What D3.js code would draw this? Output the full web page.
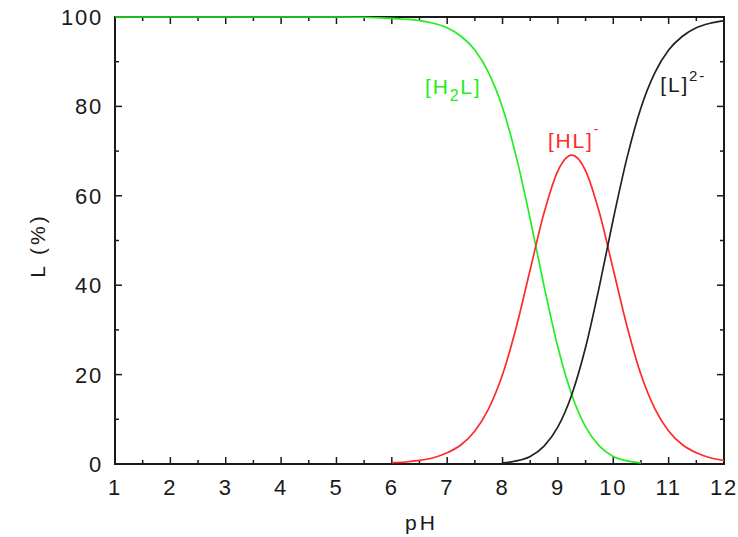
<!DOCTYPE html>
<html lang="en">
<head>
  <meta charset="UTF-8">
  <title>Speciation vs pH</title>
  <script src="https://cdnjs.cloudflare.com/ajax/libs/d3/7.8.5/d3.min.js"></script>
  <style>
    body {
      margin: 0;
      background: white;
    }
    svg {
      display: block;
      font-family: "Liberation Sans", Arial, sans-serif;
    }
    .tick-label {
      font-size: 22px;
      letter-spacing: 1.8px;
      fill: #1a1a1a;
    }
    .axis-title {
      font-size: 21px;
      letter-spacing: 3px;
      fill: #1a1a1a;
    }
    .species {
      font-size: 21px;
      letter-spacing: 1.8px;
    }
  </style>
</head>
<body>
  <script>
    var pH = [1, 2, 3, 4, 5, 6, 6.25, 6.5, 6.75, 7, 7.25, 7.5, 7.75, 8, 8.25, 8.5, 8.75,
      9, 9.25, 9.5, 9.75, 10, 10.25, 10.5, 10.75, 11, 11.25, 11.5, 11.75, 12];

    var h2l = [100, 100, 100, 100, 100, 99.7, 99.5, 99.2, 98.6, 97.6, 95.7, 92.6, 87.5,
      79.7, 68.6, 54.8, 39.8, 26.1, 15.5, 8.3, 4.0, 1.7, 0.7, 0.25,
      null, null, null, null, null, null];

    var hl = [null, null, null, null, null, 0.3, 0.45, 0.8, 1.4, 2.5, 4.3, 7.4, 12.4,
      20.0, 30.7, 43.5, 56.2, 65.6, 69.1, 65.6, 56.2, 43.5, 30.7, 20.0,
      12.4, 7.4, 4.3, 2.5, 1.4, 0.8];

    var l2 = [null, null, null, null, null, null, null, null, null, null, null, null, null,
      0.25, 0.7, 1.7, 4.0, 8.3, 15.5, 26.1, 39.8, 54.8, 68.6, 79.7,
      87.5, 92.6, 95.7, 97.6, 98.6, 99.2];

    var xTicks = [1, 2, 3, 4, 5, 6, 7, 8, 9, 10, 11, 12];
    var yTicks = [0, 20, 40, 60, 80, 100];

    var w = 738;
    var h = 537;
    var margin = {top: 17, right: 14, bottom: 73, left: 115};

    var svg = d3.select("body").append("svg")
      .attr("width", w)
      .attr("height", h);

    var xScale = d3.scaleLinear()
      .domain([1, 12])
      .range([margin.left, w - margin.right]);

    var yScale = d3.scaleLinear()
      .domain([0, 100])
      .range([h - margin.bottom, margin.top]);

    var x0 = margin.left, x1 = w - margin.right;
    var y0 = h - margin.bottom, y1 = margin.top;

    // minor ticks (halves / tens), all inward, all four sides
    var xMinor = d3.range(1.5, 12, 1);
    var yMinor = d3.range(10, 100, 20);
    var tickColor = "#1a1a1a";

    function xTickLines(vals, len) {
      vals.forEach(function(v) {
        svg.append("line").attr("x1", xScale(v)).attr("x2", xScale(v))
          .attr("y1", y0).attr("y2", y0 - len)
          .attr("stroke", tickColor).attr("stroke-width", 1.5);
        svg.append("line").attr("x1", xScale(v)).attr("x2", xScale(v))
          .attr("y1", y1).attr("y2", y1 + len)
          .attr("stroke", tickColor).attr("stroke-width", 1.5);
      });
    }
    function yTickLines(vals, len) {
      vals.forEach(function(v) {
        svg.append("line").attr("x1", x0).attr("x2", x0 + len)
          .attr("y1", yScale(v)).attr("y2", yScale(v))
          .attr("stroke", tickColor).attr("stroke-width", 1.5);
        svg.append("line").attr("x1", x1).attr("x2", x1 - len)
          .attr("y1", yScale(v)).attr("y2", yScale(v))
          .attr("stroke", tickColor).attr("stroke-width", 1.5);
      });
    }
    xTickLines(xTicks, 7);
    xTickLines(xMinor, 4);
    yTickLines(yTicks, 7);
    yTickLines(yMinor, 4);

    // frame
    svg.append("rect")
      .attr("x", x0).attr("y", y1)
      .attr("width", x1 - x0).attr("height", y0 - y1)
      .attr("fill", "none")
      .attr("stroke", tickColor)
      .attr("stroke-width", 2);

    // curves (drawn over the frame, like the original)
    var line = d3.line()
      .defined(function(d) { return d[1] !== null; })
      .x(function(d) { return xScale(d[0]); })
      .y(function(d) { return yScale(d[1]); })
      .curve(d3.curveMonotoneX);

    var series = [
      {values: h2l, color: "#22ee22"},
      {values: hl, color: "#ff2a2a"},
      {values: l2, color: "#222222"}
    ];

    svg.selectAll(".curve")
      .data(series)
      .enter()
      .append("path")
      .classed("curve", true)
      .attr("fill", "none")
      .attr("stroke", function(d) { return d.color; })
      .attr("stroke-width", 1.7)
      .attr("d", function(d) {
        return line(pH.map(function(p, i) { return [p, d.values[i]]; }));
      });

    // tick labels
    svg.selectAll(".x-label")
      .data(xTicks)
      .enter()
      .append("text")
      .attr("class", "tick-label x-label")
      .attr("x", function(d) { return xScale(d); })
      .attr("y", y0 + 31)
      .attr("text-anchor", "middle")
      .text(function(d) { return d; });

    svg.selectAll(".y-label")
      .data(yTicks)
      .enter()
      .append("text")
      .attr("class", "tick-label y-label")
      .attr("x", x0 - 12)
      .attr("y", function(d) { return yScale(d) + 8; })
      .attr("text-anchor", "end")
      .text(function(d) { return d; });

    svg.append("text")
      .attr("class", "axis-title")
      .attr("x", (x0 + x1) / 2 + 2)
      .attr("y", 530)
      .attr("text-anchor", "middle")
      .text("pH");

    svg.append("text")
      .attr("class", "axis-title")
      .attr("transform", "translate(45," + ((y0 + y1) / 2 + 5) + ") rotate(-90)")
      .attr("text-anchor", "middle")
      .text("L (%)");

    // species labels
    var lab1 = svg.append("text").attr("class", "species")
      .attr("x", xScale(6.6)).attr("y", yScale(82.8)).attr("fill", "#22ee22");
    lab1.append("tspan").text("[H");
    lab1.append("tspan").attr("dy", 7).attr("font-size", 16).text("2");
    lab1.append("tspan").attr("dy", -7).text("L]");

    var lab2 = svg.append("text").attr("class", "species")
      .attr("x", xScale(8.82)).attr("y", yScale(70.7)).attr("fill", "#ff2a2a");
    lab2.append("tspan").text("[HL]");
    lab2.append("tspan").attr("dy", -14).attr("font-size", 14).text("-");

    var lab3 = svg.append("text").attr("class", "species")
      .attr("x", xScale(10.85)).attr("y", yScale(83.2)).attr("fill", "#1a1a1a");
    lab3.append("tspan").text("[L]");
    lab3.append("tspan").attr("dy", -11).attr("font-size", 15).text("2-");
  </script>
</body>
</html>
